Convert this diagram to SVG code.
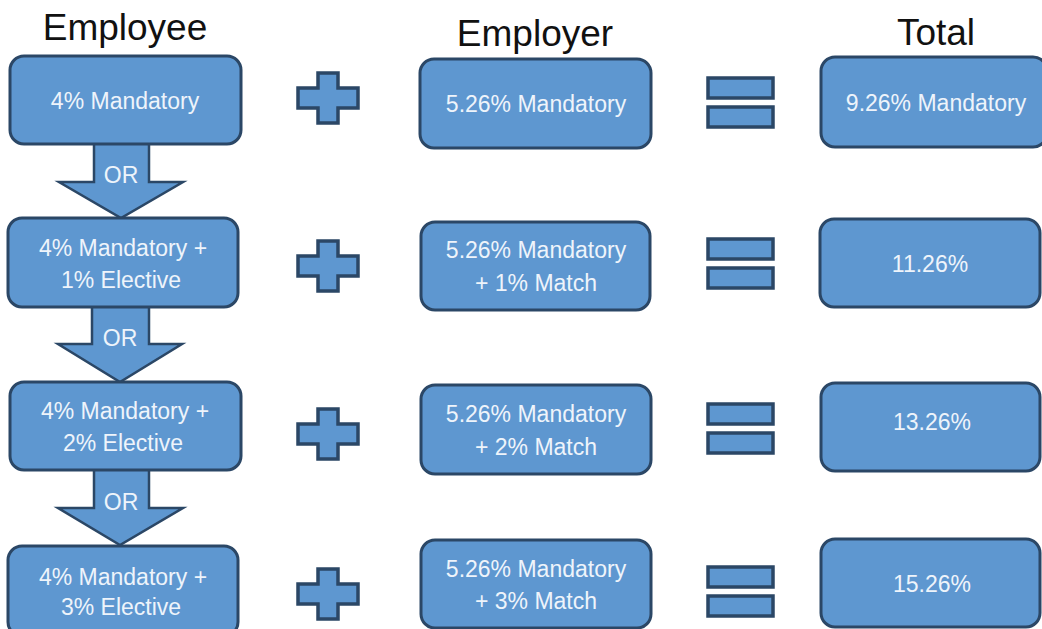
<svg xmlns="http://www.w3.org/2000/svg" width="1042" height="629" viewBox="0 0 1042 629">
  <style>
    .box { fill: #5e97d0; stroke: #2b4766; stroke-width: 3; }
    .sym { fill: #5e97d0; stroke: #2b4766; stroke-width: 3.5; stroke-linejoin: miter; }
    .arrow { fill: #5e97d0; stroke: #2b4766; stroke-width: 2.5; stroke-linejoin: miter; }
    .lbl { font-family: "Liberation Sans", Arial, sans-serif; font-size: 23px; fill: #eef4fb; text-anchor: middle; }
    .head { font-family: "Liberation Sans", Arial, sans-serif; font-size: 37px; fill: #111; text-anchor: middle; }
  </style>
  <defs>
    <path id="plus" class="sym" d="M-10,-25 H10 V-10 H30 V10 H10 V25 H-10 V10 H-30 V-10 H-10 Z"/>
    <g id="equals">
      <rect class="sym" x="0" y="0" width="65" height="20"/>
      <rect class="sym" x="0" y="29" width="65" height="20"/>
    </g>
  </defs>

  <rect width="1042" height="629" fill="#ffffff"/>

  <!-- column headings -->
  <g id="headings">
    <text class="head" x="125" y="40">Employee</text>
    <text class="head" x="535" y="46">Employer</text>
    <text class="head" x="936" y="45">Total</text>
  </g>

  <!-- "OR" block arrows between employee options -->
  <g id="connectors">
    <path class="arrow" d="M94,140 H149 V182 H183 L121,218 L59,182 H94 Z"/>
    <text class="lbl" x="121" y="183">OR</text>
    <path class="arrow" d="M92,304 H149 V344 H182 L120,382 L58,344 H92 Z"/>
    <text class="lbl" x="120" y="346">OR</text>
    <path class="arrow" d="M94,467 H149 V508 H183 L120,545 L58,508 H94 Z"/>
    <text class="lbl" x="121" y="510">OR</text>
  </g>

  <!-- employee contributions -->
  <g id="employee-1">
    <rect class="box" x="10" y="56" width="231" height="88" rx="14"/>
    <text class="lbl" x="125" y="109">4% Mandatory</text>
  </g>
  <g id="employee-2">
    <rect class="box" x="8" y="218" width="230" height="89" rx="14"/>
    <text class="lbl" x="123" y="256">4% Mandatory +</text>
    <text class="lbl" x="121" y="288">1% Elective</text>
  </g>
  <g id="employee-3">
    <rect class="box" x="10" y="382" width="231" height="88" rx="14"/>
    <text class="lbl" x="125" y="419">4% Mandatory +</text>
    <text class="lbl" x="123" y="451">2% Elective</text>
  </g>
  <g id="employee-4">
    <rect class="box" x="8" y="546" width="230" height="90" rx="14"/>
    <text class="lbl" x="123" y="585">4% Mandatory +</text>
    <text class="lbl" x="121" y="615">3% Elective</text>
  </g>

  <!-- plus signs -->
  <g id="plus-1"><use href="#plus" x="328" y="98"/></g>
  <g id="plus-2"><use href="#plus" x="328" y="266"/></g>
  <g id="plus-3"><use href="#plus" x="328" y="434"/></g>
  <g id="plus-4"><use href="#plus" x="328" y="594"/></g>

  <!-- employer contributions -->
  <g id="employer-1">
    <rect class="box" x="420" y="59" width="231" height="89" rx="14"/>
    <text class="lbl" x="536" y="112">5.26% Mandatory</text>
  </g>
  <g id="employer-2">
    <rect class="box" x="421" y="222" width="229" height="88" rx="14"/>
    <text class="lbl" x="536" y="258">5.26% Mandatory</text>
    <text class="lbl" x="536" y="291">+ 1% Match</text>
  </g>
  <g id="employer-3">
    <rect class="box" x="421" y="385" width="230" height="89" rx="14"/>
    <text class="lbl" x="536" y="422">5.26% Mandatory</text>
    <text class="lbl" x="536" y="455">+ 2% Match</text>
  </g>
  <g id="employer-4">
    <rect class="box" x="421" y="540" width="230" height="88" rx="14"/>
    <text class="lbl" x="536" y="577">5.26% Mandatory</text>
    <text class="lbl" x="536" y="609">+ 3% Match</text>
  </g>

  <!-- equals signs -->
  <g id="equals-1"><use href="#equals" x="708" y="78"/></g>
  <g id="equals-2"><use href="#equals" x="708" y="239"/></g>
  <g id="equals-3"><use href="#equals" x="708" y="404"/></g>
  <g id="equals-4"><use href="#equals" x="708" y="567"/></g>

  <!-- totals -->
  <g id="total-1">
    <rect class="box" x="821" y="57" width="226" height="90" rx="14"/>
    <text class="lbl" x="936" y="111">9.26% Mandatory</text>
  </g>
  <g id="total-2">
    <rect class="box" x="820" y="219" width="220" height="88" rx="14"/>
    <text class="lbl" x="930" y="272">11.26%</text>
  </g>
  <g id="total-3">
    <rect class="box" x="821" y="383" width="219" height="88" rx="14"/>
    <text class="lbl" x="932" y="430">13.26%</text>
  </g>
  <g id="total-4">
    <rect class="box" x="821" y="539" width="219" height="88" rx="14"/>
    <text class="lbl" x="932" y="592">15.26%</text>
  </g>
</svg>
